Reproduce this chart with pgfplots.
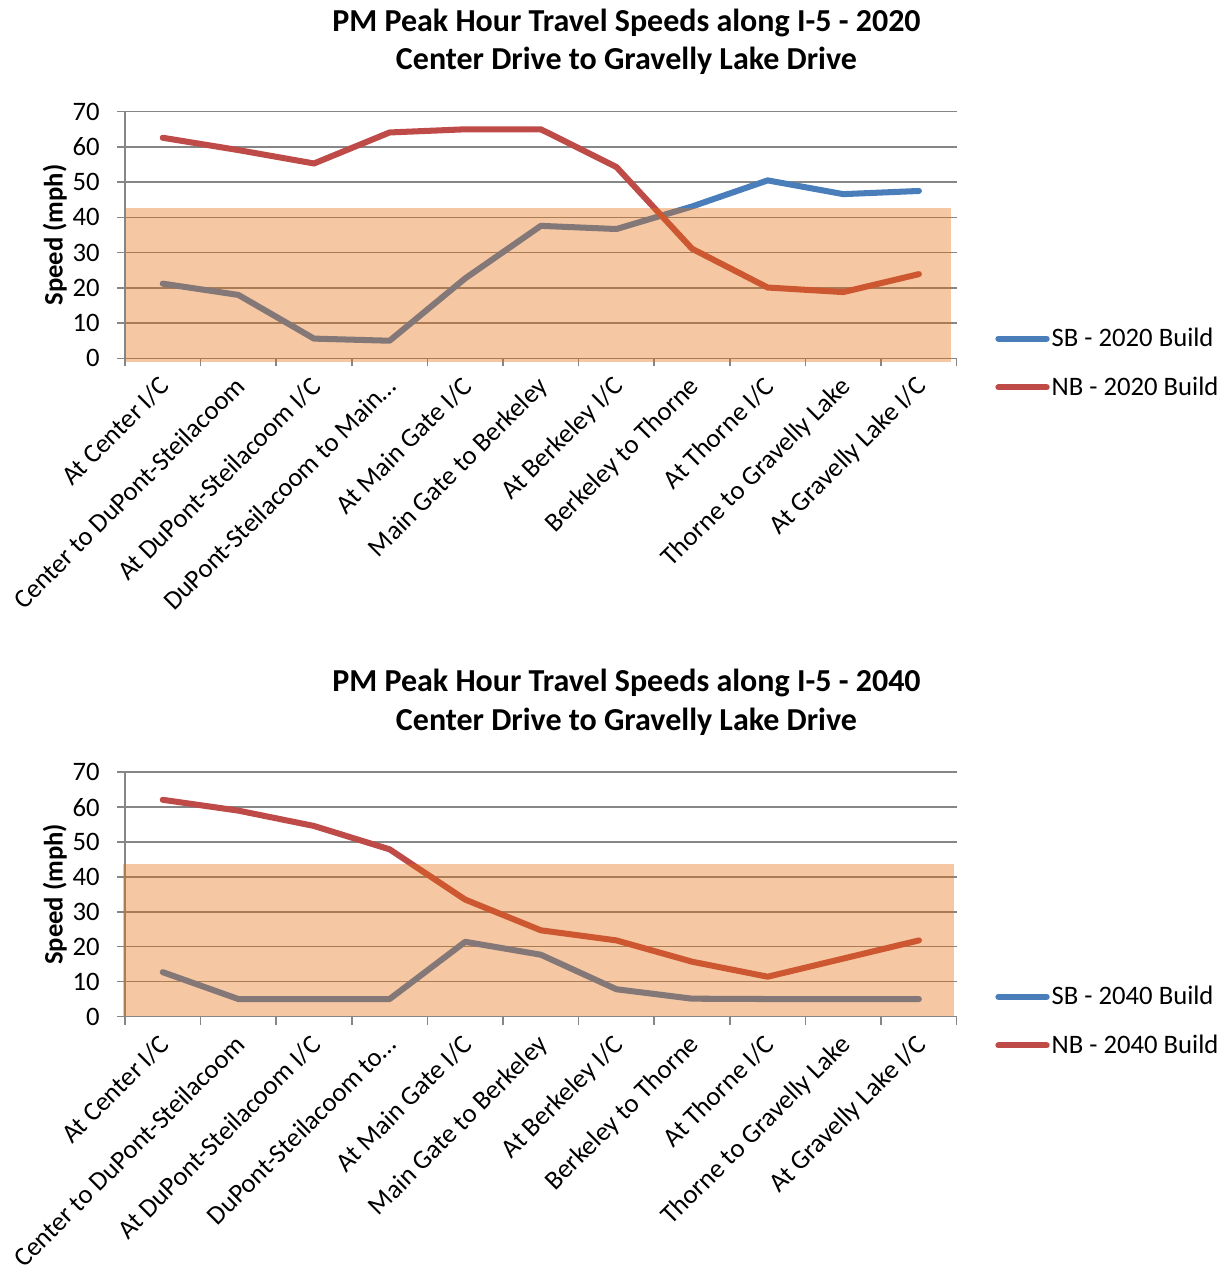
\documentclass[border=0pt]{standalone}
\usepackage{fontspec}
\setmainfont{Carlito}
\usepackage{pgfplots}
\pgfplotsset{compat=1.18}
\definecolor{sbblue}{HTML}{4A7EBB}
\definecolor{nbred}{HTML}{BE4B48}
\definecolor{bandc}{HTML}{E46C0A}
\definecolor{gridc}{HTML}{868686}
\newcommand{\lblfont}{\fontsize{13.25}{16}\selectfont}
\newcommand{\ttlfont}{\bfseries\fontsize{15.9}{19}\selectfont}
\pgfplotsset{
  speedaxis/.style={
    scale only axis, width=413.4pt,
    xmin=-0.5, xmax=10.5, ymin=0, ymax=70,
    axis x line*=bottom, axis y line*=left,
    axis line style={gridc, line width=0.75pt},
    ytick={0,10,...,70},
    ymajorgrids, grid style={gridc, line width=0.75pt},
    xtick={-0.5,0.5,...,10.5}, xticklabels={},
    tick align=outside, major tick length=4pt,
    tick style={gridc, line width=0.75pt},
    extra x ticks={0,1,2,3,4,5,6,7,8,9,10},
    xticklabel shift=0.8pt,
    extra x tick style={major tick length=0pt,
      xticklabel style={rotate=45, anchor=north east, xshift=-3.4pt, font=\lblfont}},
    yticklabel style={font=\lblfont, xshift=-5pt},
    /pgf/number format/assume math mode=true,
    ylabel={\bfseries Speed (mph)},
    ylabel style={at={(axis description cs:-0.0842,0.5)}, anchor=center, font=\lblfont},
    title style={at={(axis description cs:0.603,1)}, anchor=center, yshift=28.8pt, align=center, font=\ttlfont},
    clip=false,
    legend style={anchor=west, draw=none, fill=none, font=\lblfont,
      inner sep=0pt, row sep=11.5pt, nodes={inner sep=1pt}},
    legend cell align=left,
    legend image code/.code={\draw[#1] (1.5pt,0pt) -- (25.5pt,0pt);},
    every axis plot/.append style={line width=3pt, line cap=round, line join=round},
  }
}
\begin{document}
\begin{tikzpicture}
\begin{axis}[speedaxis, name=topaxis, at={(0,0)}, anchor=south west, height=122.6pt,
  title={PM Peak Hour Travel Speeds along I-5 - 2020\\Center Drive to Gravelly Lake Drive},
  extra x tick labels={At Center I/C, Center to DuPont-Steilacoom, At DuPont-Steilacoom I/C, DuPont-Steilacoom to Main…, At Main Gate I/C, Main Gate to Berkeley, At Berkeley I/C, Berkeley to Thorne, At Thorne I/C, Thorne to Gravelly Lake, At Gravelly Lake I/C},
  legend style={at={(rel axis cs:1.046,-0.019)}}]
\addplot[sbblue] coordinates {(0,21.2) (1,18.0) (2,5.6) (3,5.0) (4,22.7) (5,37.6) (6,36.7) (7,43.1) (8,50.5) (9,46.6) (10,47.5)};
\addlegendentry{SB - 2020 Build}
\addplot[nbred] coordinates {(0,62.6) (1,59.1) (2,55.3) (3,64.1) (4,65.0) (5,65.0) (6,54.3) (7,31.1) (8,20.1) (9,18.8) (10,23.9)};
\addlegendentry{NB - 2020 Build}
\addplot[draw=none, line width=0pt, fill=bandc, fill opacity=0.38, forget plot] coordinates {(-0.5,-1) (10.43,-1) (10.43,42.8) (-0.5,42.8)} -- cycle;
\end{axis}
\begin{axis}[speedaxis, at={(0,-327.1pt)}, anchor=south west, height=121.4pt,
  title={PM Peak Hour Travel Speeds along I-5 - 2040\\Center Drive to Gravelly Lake Drive},
  extra x tick labels={At Center I/C, Center to DuPont-Steilacoom, At DuPont-Steilacoom I/C, DuPont-Steilacoom to…, At Main Gate I/C, Main Gate to Berkeley, At Berkeley I/C, Berkeley to Thorne, At Thorne I/C, Thorne to Gravelly Lake, At Gravelly Lake I/C},
  legend style={at={(rel axis cs:1.046,-0.019)}}]
\addplot[sbblue] coordinates {(0,12.7) (1,5.0) (2,5.0) (3,5.0) (4,21.4) (5,17.7) (6,7.8) (7,5.1) (8,5.0) (9,5.0) (10,5.0)};
\addlegendentry{SB - 2040 Build}
\addplot[nbred] coordinates {(0,62.1) (1,59.0) (2,54.6) (3,47.9) (4,33.5) (5,24.7) (6,21.8) (7,15.7) (8,11.4) (9,16.6) (10,21.8)};
\addlegendentry{NB - 2040 Build}
\addplot[draw=none, line width=0pt, fill=bandc, fill opacity=0.38, forget plot] coordinates {(-0.52,0) (10.47,0) (10.47,43.7) (-0.52,43.7)} -- cycle;
\end{axis}
\pgfresetboundingbox
\path[use as bounding box] (topaxis.south west) ++(-62.1pt,-454.6pt) rectangle ++(610.3pt,632.7pt);
\end{tikzpicture}
\end{document}
